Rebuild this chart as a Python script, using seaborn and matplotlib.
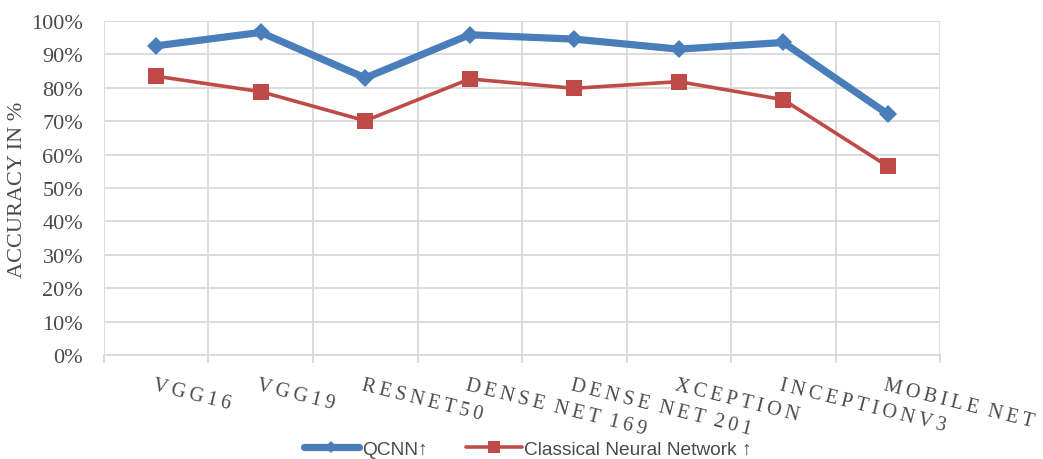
import matplotlib
matplotlib.use("Agg")
import matplotlib.pyplot as plt
from matplotlib.ticker import FixedLocator, PercentFormatter
import seaborn as sns
import pandas as pd
import numpy as np

# Model names along the x axis
models = ["VGG16", "VGG19", "RESNET50", "DENSE NET 169", "DENSE NET 201",
          "XCEPTION", "INCEPTIONV3", "MOBILE NET"]

# Accuracy (%) per model
qcnn_acc = [92.5, 96.5, 82.9, 95.8, 94.5, 91.5, 93.5, 72.1]
classical_acc = [83.4, 78.8, 70.1, 82.6, 79.8, 81.8, 76.4, 56.5]

y_ticks = list(range(0, 101, 10))

qcnn_label = "QCNN\u2191"
classical_label = "Classical Neural Network \u2191"

BLUE = "#4a7ebb"
RED = "#be4b48"
GRID = "#d9d9d9"
TEXT = "#4a4a4a"

sns.set_theme(style="white")
plt.rcParams["font.family"] = ["Liberation Serif", "DejaVu Serif"]

fig = plt.figure(figsize=(10.43, 4.6), dpi=100)
ax = fig.add_axes([0.0997, 0.2254, 0.8016, 0.7274])

df = pd.DataFrame({"pos": np.arange(len(models)), "QCNN": qcnn_acc,
                   "Classical": classical_acc})

sns.lineplot(data=df, x="pos", y="QCNN", ax=ax, color=BLUE, linewidth=5.2,
             marker="D", markersize=9, markeredgewidth=0, label=qcnn_label,
             zorder=4)
sns.lineplot(data=df, x="pos", y="Classical", ax=ax, color=RED, linewidth=2.6,
             marker="s", markersize=11, markeredgewidth=0,
             label=classical_label, zorder=3)

n = len(models)
ax.set_xlim(-0.5, n - 0.5)
ax.set_ylim(0, 100)

# Gridlines at category boundaries and each 10%
bounds = np.arange(-0.5, n, 1.0)
ax.xaxis.set_major_locator(FixedLocator(bounds))
ax.set_xticklabels([])
ax.yaxis.set_major_locator(FixedLocator(y_ticks))
ax.yaxis.set_major_formatter(PercentFormatter(decimals=0))
ax.grid(True, color=GRID, linewidth=1.3)
ax.set_axisbelow(True)
for side in ["top", "right", "left"]:
    ax.spines[side].set_visible(False)
ax.spines["bottom"].set_color(GRID)
ax.spines["bottom"].set_linewidth(1.3)
ax.tick_params(axis="x", which="major", length=6, color=GRID, width=1.3,
               bottom=True)
ax.tick_params(axis="y", length=0, labelsize=16, pad=15, labelcolor=TEXT)

ax.set_xlabel("")
ax.set_ylabel("")
fig.text(18 / 1043, 1 - 190 / 460, "ACCURACY IN %", rotation=90,
         ha="center", va="center", fontsize=16, color=TEXT)

# Letter-spaced, slanted category names
for i, name in enumerate(models):
    spaced = "\u2009".join(list(name)).replace("\u2009 \u2009", "  ")
    ax.text(i - 0.01, -6.0, spaced, rotation=-14, rotation_mode="anchor",
            ha="left", va="top", fontsize=14.5, color=TEXT,
            transform=ax.transData, clip_on=False)

ax.get_legend().remove()
handles, labels = ax.get_legend_handles_labels()
leg = fig.legend(handles, labels, loc="center", bbox_to_anchor=(0.506, 0.022),
                 ncol=2, frameon=False, handlelength=2.9, columnspacing=2.0,
                 handletextpad=0.15,
                 prop={"family": ["Liberation Sans", "DejaVu Sans"],
                       "size": 13.8})
for t in leg.get_texts():
    t.set_color(TEXT)
leg_lines = leg.get_lines()
leg_lines[0].set_markersize(6)
leg_lines[1].set_markersize(8)

fig.savefig("out.png", dpi=100)
